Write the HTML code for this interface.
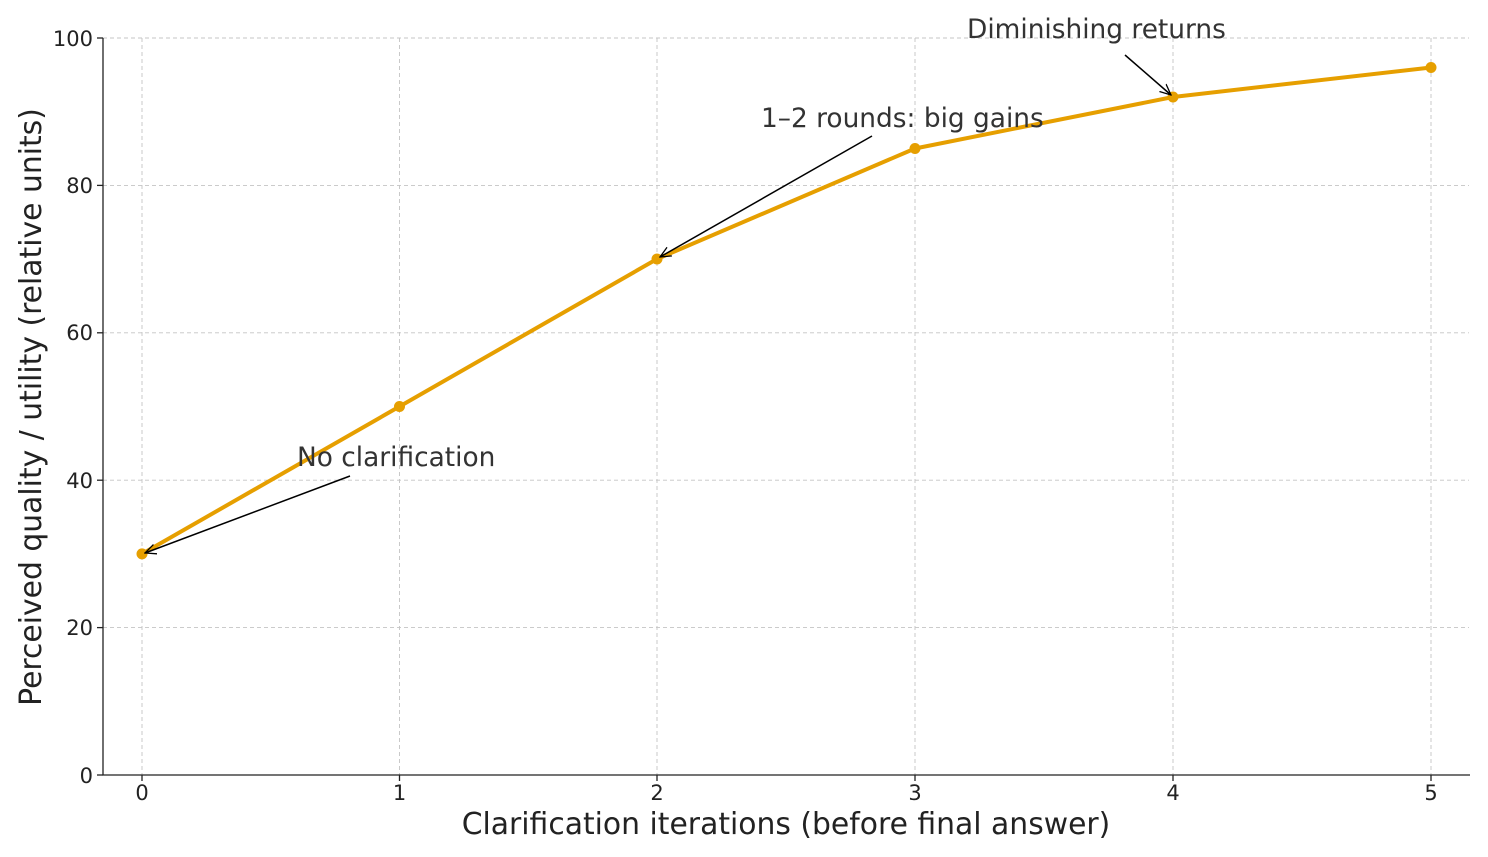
<!DOCTYPE html>
<html><head><meta charset="utf-8"><style>
html,body{margin:0;padding:0;background:#fff;}
svg{display:block;font-family:"DejaVu Sans","Liberation Sans",sans-serif;}
</style></head><body>
<svg width="1488" height="857" viewBox="0 0 1488 857" xmlns="http://www.w3.org/2000/svg">
<defs>
<marker id="ah" viewBox="0 0 12 12" refX="11" refY="6" markerWidth="12" markerHeight="12" markerUnits="userSpaceOnUse" orient="auto">
<path d="M0,1 L11,6 L0,11" fill="none" stroke="#000" stroke-width="1.3"/>
</marker>
</defs>
<g stroke="#c4c4c4" stroke-width="0.9" stroke-dasharray="4,3">
<line x1="142" y1="38" x2="142" y2="775"/>
<line x1="399.5" y1="38" x2="399.5" y2="775"/>
<line x1="657" y1="38" x2="657" y2="775"/>
<line x1="915" y1="38" x2="915" y2="775"/>
<line x1="1173" y1="38" x2="1173" y2="775"/>
<line x1="1431" y1="38" x2="1431" y2="775"/>
<line x1="103" y1="627.6" x2="1469" y2="627.6"/>
<line x1="103" y1="480.2" x2="1469" y2="480.2"/>
<line x1="103" y1="332.8" x2="1469" y2="332.8"/>
<line x1="103" y1="185.4" x2="1469" y2="185.4"/>
<line x1="103" y1="38" x2="1469" y2="38"/>
</g>
<g stroke="#222" stroke-width="1.3">
<line x1="103" y1="38" x2="103" y2="775.5"/>
<line x1="102.5" y1="775" x2="1470" y2="775"/>
<line x1="142" y1="775" x2="142" y2="781"/>
<line x1="399.5" y1="775" x2="399.5" y2="781"/>
<line x1="657" y1="775" x2="657" y2="781"/>
<line x1="915" y1="775" x2="915" y2="781"/>
<line x1="1173" y1="775" x2="1173" y2="781"/>
<line x1="1431" y1="775" x2="1431" y2="781"/>
<line x1="97" y1="775" x2="103" y2="775"/>
<line x1="97" y1="627.6" x2="103" y2="627.6"/>
<line x1="97" y1="480.2" x2="103" y2="480.2"/>
<line x1="97" y1="332.8" x2="103" y2="332.8"/>
<line x1="97" y1="185.4" x2="103" y2="185.4"/>
<line x1="97" y1="38" x2="103" y2="38"/>
</g>
<g font-size="21" fill="#222" text-anchor="middle">
<text x="142" y="800">0</text>
<text x="399.5" y="800">1</text>
<text x="657" y="800">2</text>
<text x="915" y="800">3</text>
<text x="1173" y="800">4</text>
<text x="1431" y="800">5</text>
</g>
<g font-size="21" fill="#222" text-anchor="end">
<text x="93" y="783">0</text>
<text x="93" y="635">20</text>
<text x="93" y="488">40</text>
<text x="93" y="340">60</text>
<text x="93" y="193">80</text>
<text x="93" y="46">100</text>
</g>
<text x="786" y="834" font-size="29.8" fill="#222" text-anchor="middle">Clarification iterations (before final answer)</text>
<text transform="translate(41,407) rotate(-90)" font-size="29.8" fill="#222" text-anchor="middle">Perceived quality / utility (relative units)</text>
<polyline points="142,553.9 399.5,406.5 657,259 915,148.5 1173,97 1431,67.5" fill="none" stroke="#E69F00" stroke-width="4" stroke-linejoin="round"/>
<g fill="#E69F00">
<circle cx="142" cy="553.9" r="5.5"/>
<circle cx="399.5" cy="406.5" r="5.5"/>
<circle cx="657" cy="259" r="5.5"/>
<circle cx="915" cy="148.5" r="5.5"/>
<circle cx="1173" cy="97" r="5.5"/>
<circle cx="1431" cy="67.5" r="5.5"/>
</g>
<g stroke="#000" stroke-width="1.5" fill="none" marker-end="url(#ah)">
<line x1="350" y1="476" x2="145" y2="553"/>
<line x1="872" y1="136" x2="660" y2="257"/>
<line x1="1125" y1="55" x2="1171" y2="95"/>
</g>
<g font-size="26.4" fill="#333">
<text x="297" y="466">No clarification</text>
<text x="761" y="127">1–2 rounds: big gains</text>
<text x="967" y="38">Diminishing returns</text>
</g>
</svg>
</body></html>
